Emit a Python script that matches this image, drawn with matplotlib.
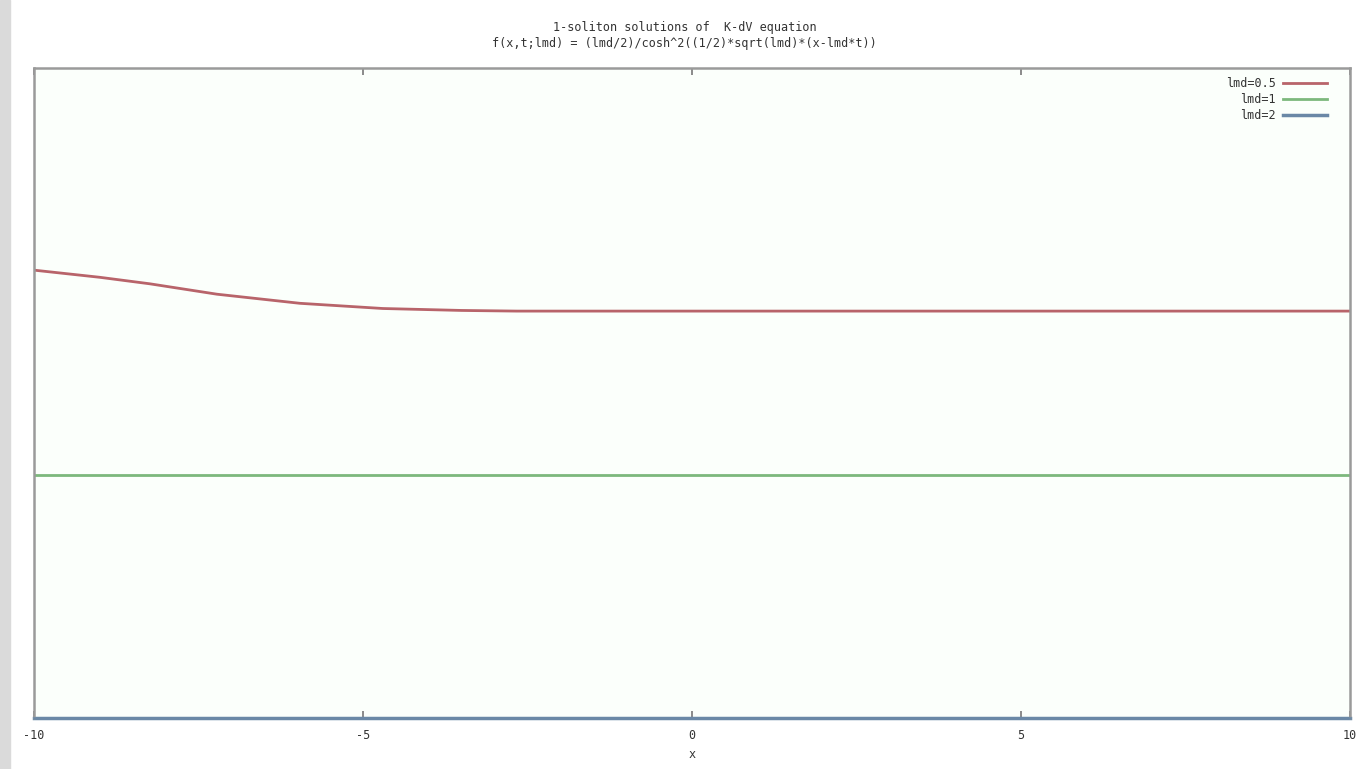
import matplotlib
matplotlib.use("Agg")
import matplotlib.pyplot as plt
from matplotlib.patches import Rectangle

plt.rcParams["axes.unicode_minus"] = False

# ---------------------------------------------------------------------------
# Data (y axis has no labels, units are arbitrary)
# ---------------------------------------------------------------------------
x_red = [-10.0, -9.0, -8.24, -7.22, -5.96, -4.70, -3.5, -2.66, 0.0, 5.0, 10.0]
y_red = [0.689, 0.678, 0.668, 0.652, 0.638, 0.630, 0.627, 0.626, 0.626, 0.626, 0.626]

x_green = [-10.0, 10.0]
y_green = [0.374, 0.374]

x_blue = [-10.0, 10.0]
y_blue = [0.0, 0.0]

labels = ["lmd=0.5", "lmd=1", "lmd=2"]
xticks = [-10, -5, 0, 5, 10]

title = ("1-soliton solutions of  K-dV equation\n"
         "f(x,t;lmd) = (lmd/2)/cosh^2((1/2)*sqrt(lmd)*(x-lmd*t))")

# ---------------------------------------------------------------------------
# Plot
# ---------------------------------------------------------------------------
fig = plt.figure(figsize=(13.69, 7.69), dpi=100)
fig.patch.set_facecolor("white")
fig.patches.append(Rectangle((0, 0), 10 / 1369, 1, transform=fig.transFigure,
                             color="#dadada", zorder=0))

ax = fig.add_axes([34 / 1369, 1 - 718 / 769, 1316 / 1369, 650 / 769])
ax.set_facecolor("#fbfffb")

ax.plot(x_red, y_red, color="#b8646a", lw=2, label=labels[0])
ax.plot(x_green, y_green, color="#7cb87c", lw=2, label=labels[1])
ax.plot(x_blue, y_blue, color="#6a88a6", lw=2.5, label=labels[2], clip_on=False)

ax.set_xlim(-10, 10)
ax.set_ylim(0, 1)
ax.set_xticks(xticks)
ax.set_yticks([])
ax.tick_params(axis="x", direction="in", top=True, length=5, width=1.2,
               color="#777777", labelsize=8.5, pad=8)
for lab in ax.get_xticklabels():
    lab.set_family("DejaVu Sans Mono")
    lab.set_color("#333333")

for s in ax.spines.values():
    s.set_color("#9a9a9a")
    s.set_linewidth(1.8)
ax.spines["bottom"].set_color("#6a88a6")

ax.set_xlabel("x", family="DejaVu Sans Mono", fontsize=8.5, color="#333333",
              labelpad=4)
fig.text(0.5, 1 - 36 / 769, title, ha="center", va="center",
         family="DejaVu Sans Mono", fontsize=8.5, color="#333333",
         linespacing=1.3)

leg = ax.legend(loc="upper right", frameon=False, markerfirst=False,
                prop={"family": "DejaVu Sans Mono", "size": 8.5},
                handlelength=3.8, handletextpad=0.6, labelspacing=0.25,
                borderaxespad=0.3, borderpad=0.5, bbox_to_anchor=(0.99, 1.0))
for t in leg.get_texts():
    t.set_color("#333333")
    t.set_ha("right")

fig.savefig("out.png", dpi=100)
